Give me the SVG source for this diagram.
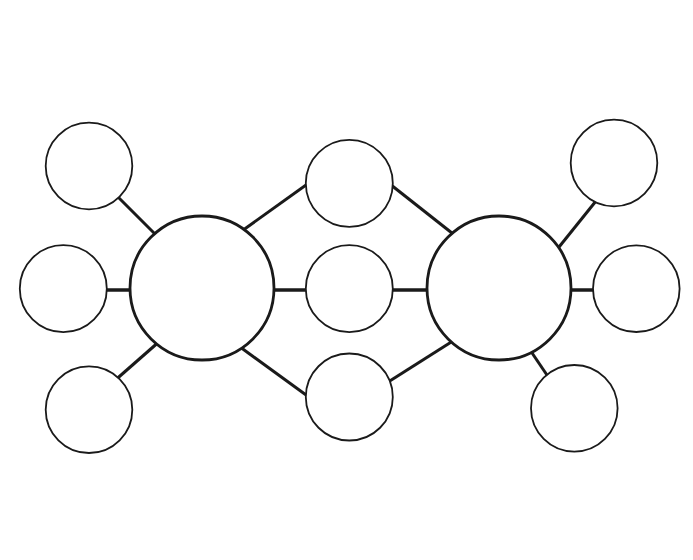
<svg xmlns="http://www.w3.org/2000/svg" width="693" height="560" viewBox="0 0 693 560">
<style>
.small{fill:#fff;stroke:#1a1a1a;stroke-width:1.8}
.big{fill:#fff;stroke:#1a1a1a;stroke-width:2.8}
.conn line{stroke:#1a1a1a;stroke-width:3}
.conn line.h{stroke-width:3.6}
</style>
<rect width="693" height="560" fill="#fff"/>
<g id="connectors" class="conn">
<line x1="112" y1="191" x2="160" y2="239"/>
<line class="h" x1="100" y1="290" x2="136" y2="290"/>
<line x1="112" y1="383" x2="161" y2="340"/>
<line x1="239" y1="233" x2="313" y2="180"/>
<line class="h" x1="268" y1="290" x2="312" y2="290"/>
<line x1="236" y1="344" x2="313" y2="400"/>
<line x1="386" y1="181" x2="457" y2="237"/>
<line class="h" x1="386" y1="290" x2="433" y2="290"/>
<line x1="385" y1="384" x2="456" y2="339"/>
<line x1="555" y1="252" x2="600" y2="196"/>
<line class="h" x1="565" y1="290" x2="600" y2="290"/>
<line x1="528" y1="347" x2="551" y2="381"/>
</g>
<g id="left-main"><circle class="big" cx="202" cy="288" r="72"/></g>
<g id="right-main"><circle class="big" cx="499" cy="288" r="72"/></g>
<g id="left-top"><circle class="small" cx="89" cy="166" r="43.3"/></g>
<g id="left-mid"><circle class="small" cx="63.3" cy="288.7" r="43.5"/></g>
<g id="left-bottom"><circle class="small" cx="89" cy="409.7" r="43.3"/></g>
<g id="shared-top"><circle class="small" cx="349.3" cy="183.3" r="43.5"/></g>
<g id="shared-mid"><circle class="small" cx="349.3" cy="288.7" r="43.5"/></g>
<g id="shared-bottom"><circle class="small" cx="349.3" cy="397" r="43.5"/></g>
<g id="right-top"><circle class="small" cx="614" cy="163" r="43.3"/></g>
<g id="right-mid"><circle class="small" cx="636.3" cy="288.7" r="43.3"/></g>
<g id="right-bottom"><circle class="small" cx="574.3" cy="408.3" r="43.3"/></g>
</svg>
